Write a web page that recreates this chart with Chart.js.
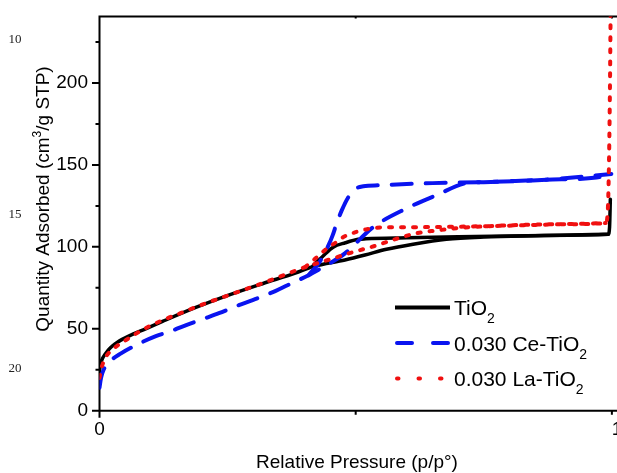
<!DOCTYPE html>
<html>
<head>
<meta charset="utf-8">
<script src="https://cdn.jsdelivr.net/npm/chart.js@4.4.0/dist/chart.umd.min.js"></script>
<style>
  html, body { margin: 0; padding: 0; background: #fff; overflow: hidden; }
  #isotherm { display: block; }
</style>
</head>
<body>
<canvas id="isotherm" width="617" height="473"></canvas>
<script>
// N2 adsorption / desorption isotherms

// TiO2 (solid black)
const tio2AdsP = [0, 0.001, 0.003, 0.006, 0.011, 0.017, 0.025, 0.035, 0.057, 0.09, 0.123, 0.188, 0.252, 0.318, 0.382, 0.417, 0.479, 0.518, 0.56, 0.612, 0.677, 0.75, 0.85, 0.95, 0.993, 0.9955, 0.997];
const tio2AdsQ = [24, 26.5, 29.5, 32, 34.5, 37, 39.5, 41.8, 45.5, 50, 54.5, 63, 70.5, 77.5, 84, 88, 92, 95, 98.5, 101.6, 104.6, 106, 106.8, 107.3, 107.7, 112, 129];
const tio2DesP = [0.993, 0.9, 0.8, 0.7, 0.6, 0.52, 0.505, 0.48, 0.456, 0.435, 0.417];
const tio2DesQ = [107.7, 107.1, 106.6, 106.1, 105.5, 104.9, 104.6, 102.5, 99.8, 94, 88.6];

// 0.030 Ce-TiO2 (blue dashed)
const ceAdsP = [0, 0.003, 0.008, 0.02, 0.042, 0.071, 0.11, 0.143, 0.163, 0.207, 0.233, 0.272, 0.299, 0.343, 0.367, 0.408, 0.43, 0.453, 0.479, 0.534, 0.6, 0.658, 0.716, 0.75, 0.872, 0.97, 0.999];
const ceAdsQ = [14, 20, 25, 30, 35, 40, 45.5, 49, 51.5, 56.5, 59.5, 64.4, 67.5, 73, 76.6, 82.7, 86.5, 90.6, 96, 112, 123.6, 131.6, 138.9, 139.5, 141, 142.3, 144.5];
const ceDesP = [0.999, 0.872, 0.741, 0.65, 0.547, 0.515, 0.502, 0.485, 0.473, 0.463, 0.455, 0.447, 0.43, 0.408];
const ceDesQ = [144.5, 141, 139.5, 138.9, 137.6, 137, 135.8, 130, 122.4, 114.5, 107, 101, 91, 82.7];

// 0.030 La-TiO2 (red dotted)
const laAdsP = [0, 0.003, 0.011, 0.03, 0.051, 0.09, 0.133, 0.158, 0.197, 0.24, 0.279, 0.318, 0.359, 0.401, 0.456, 0.495, 0.542, 0.576, 0.619, 0.658, 0.7, 0.75, 0.9, 0.988, 0.992, 0.994, 0.996, 0.998];
const laAdsQ = [20, 25, 32, 38.5, 43, 50.4, 56.5, 59.5, 64.4, 69.2, 73.5, 77.8, 82.7, 87.6, 93, 96.8, 101, 104.6, 108.3, 110, 111.5, 112.5, 113.8, 114.5, 122, 145, 190, 260];
const laDesP = [0.988, 0.9, 0.75, 0.6, 0.561, 0.522, 0.5, 0.476, 0.458, 0.44, 0.42, 0.401];
const laDesQ = [114.5, 113.8, 112.6, 112, 112, 110.8, 109, 106, 102, 98, 92.5, 87.6];

const seriesNames = ['TiO2', '0.030 Ce-TiO2', '0.030 La-TiO2'];
const yTicks = [0, 25, 50, 75, 100, 125, 150, 175, 200, 225];
const xTicks = [0, 0.5, 1];
const lineNumbers = ['10', '15', '20'];

const FONT = '"Liberation Sans", Arial, sans-serif';

// points sorted by pressure so the monotone spline can be used on both branches
const toPoints = (ps, qs) => ps.map((p, i) => ({ x: p, y: qs[i] })).sort((a, b) => a.x - b.x);

const styles = [
    { color: '#000000', width: 3.5, dash: [], cap: 'round' },
    { color: '#0a14f0', width: 4, dash: [20, 14], cap: 'round' },
    { color: '#f01010', width: 4, dash: [3, 9], cap: 'round' }
];

function ds(points, s) {
    return {
        data: points,
        borderColor: s.color,
        borderWidth: s.width,
        borderDash: s.dash,
        borderCapStyle: s.cap,
        borderJoinStyle: 'round',
        pointRadius: 0,
        cubicInterpolationMode: 'monotone',
        fill: false
    };
}

// text with sub/superscript pieces
function drawRich(ctx, parts, x, y) {
    let cx = x;
    parts.forEach(p => {
        ctx.font = p.size + 'px ' + FONT;
        ctx.fillText(p.text, cx, y + (p.dy || 0));
        cx += ctx.measureText(p.text).width;
    });
    return cx - x;
}
function richWidth(ctx, parts) {
    let w = 0;
    parts.forEach(p => { ctx.font = p.size + 'px ' + FONT; w += ctx.measureText(p.text).width; });
    return w;
}

const frame = {
    id: 'frame',
    beforeDatasetsDraw(chart) {
        const { ctx, chartArea: a, scales: { x, y } } = chart;
        ctx.save();
        ctx.strokeStyle = '#000';
        ctx.lineWidth = 2;
        ctx.beginPath();
        ctx.moveTo(a.left, a.top); ctx.lineTo(a.right + 2, a.top);
        ctx.moveTo(a.left, a.top - 1); ctx.lineTo(a.left, a.bottom + 7);
        ctx.moveTo(a.left, a.bottom); ctx.lineTo(a.right + 2, a.bottom);
        yTicks.forEach(v => {
            const py = y.getPixelForValue(v);
            ctx.moveTo(a.left - (v % 50 === 0 ? 7.5 : 4), py);
            ctx.lineTo(a.left, py);
        });
        xTicks.forEach(v => {
            const px = x.getPixelForValue(v);
            if (v === 0) return;
            ctx.moveTo(px, a.bottom); ctx.lineTo(px, a.bottom + 4);
            ctx.moveTo(px, a.top); ctx.lineTo(px, a.top + 2);
        });
        ctx.stroke();
        ctx.restore();
    },
    afterDraw(chart) {
        const { ctx } = chart;
        ctx.save();
        ctx.fillStyle = '#000';
        ctx.textBaseline = 'alphabetic';

        // y title
        ctx.save();
        ctx.translate(49, 199);
        ctx.rotate(-Math.PI / 2);
        const yParts = [
            { text: 'Quantity Adsorbed (cm', size: 19 },
            { text: '3', size: 12, dy: -8 },
            { text: '/g STP)', size: 19 }
        ];
        drawRich(ctx, yParts, -richWidth(ctx, yParts) / 2, 0);
        ctx.restore();

        // x title
        const xParts = [{ text: 'Relative Pressure (p/p°)', size: 19 }];
        drawRich(ctx, xParts, 357 - richWidth(ctx, xParts) / 2, 468);

        // legend
        const rowY = [307.5, 343, 378.5];
        seriesNames.forEach((name, i) => {
            const s = styles[i];
            const yy = rowY[i];
            ctx.save();
            ctx.strokeStyle = s.color;
            ctx.lineWidth = 4;
            ctx.lineCap = i === 0 ? 'butt' : 'round';
            ctx.setLineDash(i === 0 ? [] : (i === 1 ? [15, 21] : [1.5, 20]));
            ctx.beginPath();
            const x0 = i === 0 ? 395 : 397;
            ctx.moveTo(x0, yy);
            ctx.lineTo(450, yy);
            ctx.stroke();
            ctx.restore();
            const parts = [
                { text: name.slice(0, -1), size: 21 },
                { text: name.slice(-1), size: 14, dy: 8 }
            ];
            drawRich(ctx, parts, 454, yy + 7.5);
        });

        // manuscript line numbers
        ctx.font = '13px "Liberation Serif", "Times New Roman", serif';
        ctx.fillStyle = '#222';
        ctx.textAlign = 'center';
        const lnY = [43, 218, 372];
        lineNumbers.forEach((t, i) => ctx.fillText(t, 15, lnY[i]));
        ctx.restore();
    }
};

new Chart(document.getElementById('isotherm'), {
    type: 'line',
    data: {
        datasets: [
            ds(toPoints(laAdsP, laAdsQ), styles[2]),
            ds(toPoints(laDesP, laDesQ), styles[2]),
            ds(toPoints(ceAdsP, ceAdsQ), styles[1]),
            ds(toPoints(ceDesP, ceDesQ), styles[1]),
            ds(toPoints(tio2AdsP, tio2AdsQ), styles[0]),
            ds(toPoints(tio2DesP, tio2DesQ), styles[0])
        ]
    },
    options: {
        responsive: false,
        animation: false,
        layout: { padding: { top: 16.5, left: 0, right: 0, bottom: 0 } },
        plugins: { legend: { display: false }, tooltip: { enabled: false } },
        scales: {
            x: {
                type: 'linear',
                min: 0,
                max: 1.01,
                grid: { display: false, drawTicks: false },
                border: { display: false },
                ticks: {
                    stepSize: 0.5,
                    includeBounds: false,
                    autoSkip: false,
                    maxRotation: 0,
                    padding: 8,
                    color: '#000',
                    font: { family: FONT, size: 19 },
                    // the "1" sits half outside the picture in the original
                    callback: v => (v === 0.5 ? '' : (v === 1 ? '  1' : String(v)))
                },
                afterFit: s => { s.height = 62.3; s.paddingLeft = 0; s.paddingRight = 0; }
            },
            y: {
                type: 'linear',
                min: 0,
                max: 240.6,
                grid: { display: false, drawTicks: false },
                border: { display: false },
                ticks: {
                    stepSize: 25,
                    includeBounds: false,
                    autoSkip: false,
                    padding: 11.5,
                    color: '#000',
                    font: { family: FONT, size: 19 },
                    callback: v => (v % 50 === 0 ? String(v) : '')
                },
                afterFit: s => { s.width = 99.5; s.paddingTop = 0; s.paddingBottom = 0; }
            }
        }
    },
    plugins: [frame]
});
</script>
</body>
</html>
